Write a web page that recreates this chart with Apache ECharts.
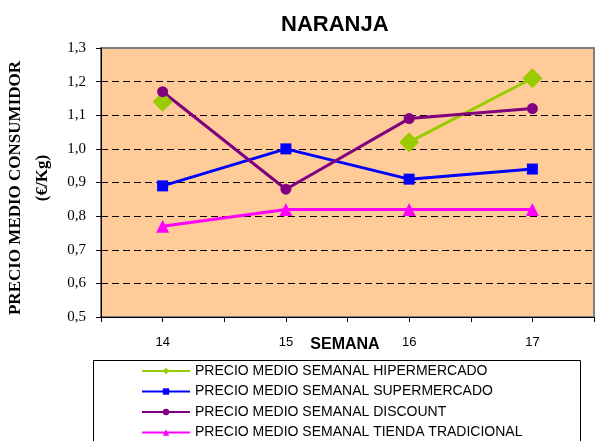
<!DOCTYPE html>
<html>
<head>
<meta charset="utf-8">
<script src="https://cdn.jsdelivr.net/npm/echarts@6/dist/echarts.min.js"></script>
<style>
  html, body { margin: 0; padding: 0; background: #fff; }
  #chart { width: 597px; height: 441px; }
</style>
</head>
<body>
<div id="chart"></div>
<script>
// datos (precio €/Kg por semana)
var semanas = [14, 15, 16, 17]
var hipermercado = [1.14, null, 1.02, 1.21]
var supermercado = [0.89, 1.00, 0.91, 0.94]
var discount = [1.17, 0.88, 1.09, 1.12]
var tiendaTradicional = [0.77, 0.82, 0.82, 0.82]

var nombres = [
  'PRECIO MEDIO SEMANAL HIPERMERCADO',
  'PRECIO MEDIO SEMANAL SUPERMERCADO',
  'PRECIO MEDIO SEMANAL DISCOUNT',
  'PRECIO MEDIO SEMANAL TIENDA TRADICIONAL'
]

// junta semana + valor para el eje de valores
function pares(valores) {
  return semanas.map(function (s, i) {
    return [s, valores[i]]
  })
}

function serie(nombre, valores, color, simbolo, tam) {
  return {
    name: nombre,
    type: 'line',
    data: pares(valores),
    connectNulls: false,
    symbol: simbolo,
    symbolSize: tam,
    showAllSymbol: true,
    lineStyle: { color: color, width: 3 },
    itemStyle: { color: color },
    emphasis: { disabled: true },
    z: 3
  }
}

var myChart = echarts.init(document.getElementById('chart'))

var option = {
  animation: false,
  backgroundColor: '#fff',
  title: {
    text: 'NARANJA',
    left: 281,
    top: 14,
    padding: 0,
    textStyle: { fontFamily: 'Liberation Sans, Arial', fontSize: 22, fontWeight: 'bold', color: '#000' }
  },
  grid: {
    left: 101,
    right: -3,
    top: 48,
    bottom: 124,
    show: true,
    backgroundColor: '#FFCC99',
    borderColor: '#808080',
    borderWidth: 2
  },
  legend: {
    orient: 'vertical',
    left: 141,
    top: 364,
    padding: 0,
    itemGap: 6.5,
    itemWidth: 48,
    itemHeight: 8,
    textStyle: { fontFamily: 'Liberation Sans, Arial', fontSize: 14, color: '#000' },
    data: nombres
  },
  xAxis: {
    type: 'value',
    min: 13.5,
    max: 17.5,
    interval: 0.5,
    axisLine: { show: true, onZero: false, lineStyle: { color: '#000', width: 1 } },
    axisTick: { show: true, length: 5, lineStyle: { color: '#000' } },
    splitLine: { show: false },
    axisLabel: {
      margin: 19,
      fontFamily: 'Liberation Sans, Arial',
      fontSize: 13,
      color: '#000',
      formatter: function (v) {
        return v % 1 === 0 && v > 13.5 && v < 17.5 ? String(v) : ''
      }
    }
  },
  yAxis: {
    type: 'value',
    min: 0.5,
    max: 1.3,
    interval: 0.1,
    axisLine: { show: true, lineStyle: { color: '#000', width: 1 } },
    axisTick: { show: true, length: 5, lineStyle: { color: '#000' } },
    splitLine: {
      show: true,
      showMinLine: false,
      showMaxLine: false,
      lineStyle: { color: '#000', type: [7, 4], width: 1 }
    },
    axisLabel: {
      margin: 15,
      fontFamily: 'Liberation Serif, Times New Roman',
      fontSize: 15,
      color: '#000',
      formatter: function (v) {
        return v.toFixed(1).replace('.', ',')
      }
    }
  },
  graphic: [
    {
      type: 'rect',
      shape: { x: 93.5, y: 360.5, width: 487, height: 90 },
      style: { fill: '#fff', stroke: '#000', lineWidth: 1 },
      z: -1
    },
    {
      type: 'text',
      x: 16, y: 188,
      rotation: Math.PI / 2,
      style: {
        text: 'PRECIO MEDIO CONSUMIDOR',
        fontFamily: 'Liberation Serif, Times New Roman',
        fontSize: 17,
        fontWeight: 'bold',
        fill: '#000',
        align: 'center',
        verticalAlign: 'middle'
      }
    },
    {
      type: 'text',
      x: 43, y: 178,
      rotation: Math.PI / 2,
      style: {
        text: '(€/Kg)',
        fontFamily: 'Liberation Serif, Times New Roman',
        fontSize: 17,
        fontWeight: 'bold',
        fill: '#000',
        align: 'center',
        verticalAlign: 'middle'
      }
    },
    {
      type: 'text',
      x: 345, y: 345,
      style: {
        text: 'SEMANA',
        fontFamily: 'Liberation Sans, Arial',
        fontSize: 16,
        fontWeight: 'bold',
        fill: '#000',
        align: 'center',
        verticalAlign: 'middle'
      }
    }
  ],
  series: [
    serie(nombres[0], hipermercado, '#99CC00', 'diamond', 20),
    serie(nombres[1], supermercado, '#0000FF', 'rect', 11),
    serie(nombres[2], discount, '#800080', 'circle', 11),
    serie(nombres[3], tiendaTradicional, '#FF00FF', 'triangle', 13)
  ]
}

myChart.setOption(option)
</script>
</body>
</html>
